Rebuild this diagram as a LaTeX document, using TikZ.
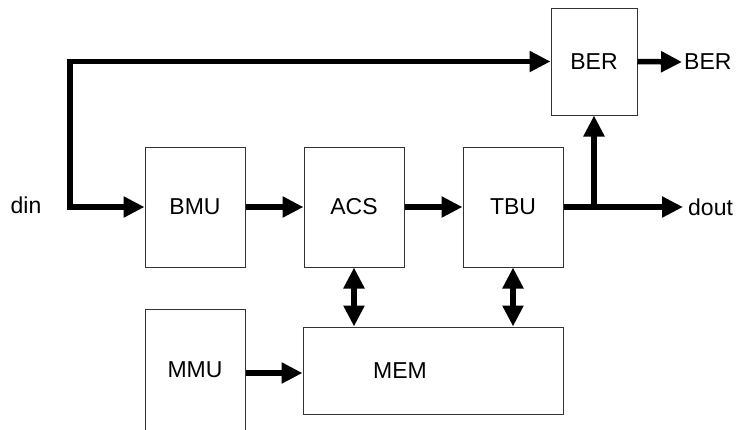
\documentclass[tikz,border=0pt]{standalone}
\usepackage{fontspec}
\setmainfont{Liberation Sans}
\usetikzlibrary{arrows.meta}
\begin{document}
\begin{tikzpicture}[x=1pt,y=-1pt,
  font=\fontsize{23}{27}\selectfont,
  blk/.style={draw=black!80, line width=1pt, minimum width=100pt, minimum height=120pt, inner sep=0pt},
  lbl/.style={inner sep=0pt},
  bus/.style={line width=5.5pt, -{Triangle[length=21pt,width=20pt]}},
  bibus/.style={line width=5.5pt, {Triangle[length=21pt,width=20pt]}-{Triangle[length=21pt,width=20pt]}}
]
\useasboundingbox (0,0) rectangle (737,429);
\clip (0,0) rectangle (737,429);
\node[blk] (bmu) at (195,207) {BMU};
\node[blk] (acs) at (354,207) {ACS};
\node[blk] (tbu) at (513,207) {TBU};
\node[blk, minimum width=86pt, minimum height=107pt] (ber) at (594,61.5) {BER};
\node[blk, minimum height=122pt] (mmu) at (195,370) {MMU};
\node[blk, minimum width=260pt, minimum height=87pt, label={[xshift=-33pt]center:MEM}] (mem) at (433,370.5) {};
\node[lbl] (din) at (26,205) {din};
\node[lbl, anchor=west] (dout) at (688,207) {dout};
\node[lbl, anchor=west] (berout) at (684,62) {BER};
\coordinate (dinc) at (70,207);
\coordinate (br) at (ber.south |- tbu.east);
\draw[bibus] (ber.west) -| (dinc) -- (bmu.west);
\draw[bus] (bmu.east) -- (acs.west);
\draw[bus] (acs.east) -- (tbu.west);
\draw[bus, shorten >=5pt] (tbu.east) -- (dout.west);
\draw[bus] (br) -- (ber.south);
\draw[bus, shorten >=2pt] (ber.east) -- (berout.west);
\draw[bibus] (acs.south) -- (acs.south |- mem.north);
\draw[bibus] (tbu.south) -- (tbu.south |- mem.north);
\draw[bus] ([yshift=-3pt]mmu.east) -- ([yshift=-3pt]mmu.east -| mem.west);
\end{tikzpicture}
\end{document}
